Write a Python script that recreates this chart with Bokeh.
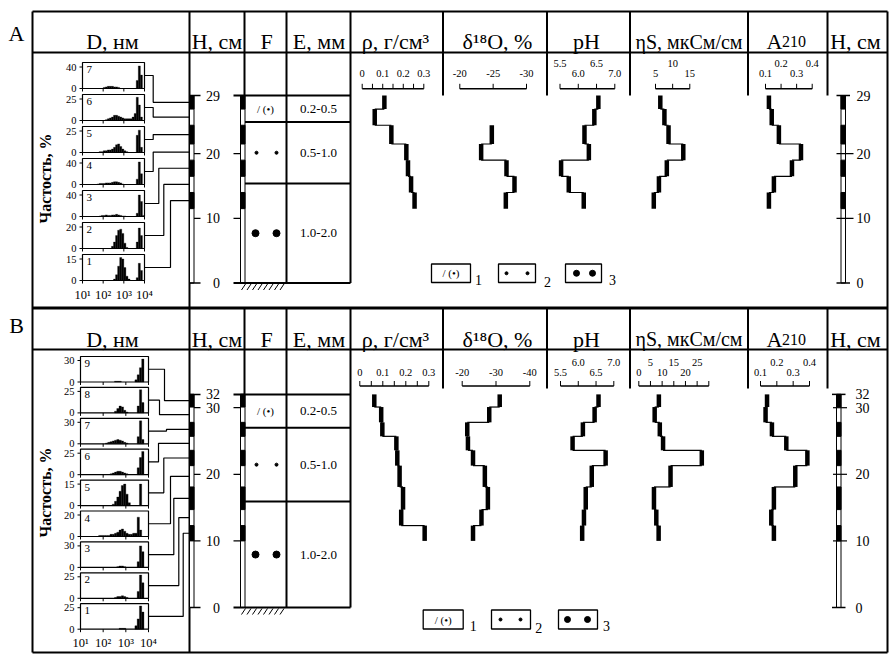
import math
from bokeh.plotting import figure
from bokeh.models import Range1d
from bokeh.embed import file_html
from bokeh.resources import INLINE
from bokeh.core.properties import value

# ======================= DATA =======================
# ---- Panel A (core A) : sample depth intervals, cm (top -> bottom)
A_edges = [29.0, 26.9, 24.4, 21.5, 19.0, 16.5, 14.0, 11.5]
A_rho = [0.108, 0.061, 0.142, 0.215, 0.223, 0.238, 0.255]
A_d18o_edges = [24.4, 21.5, 19.0, 16.5, 14.0, 11.5]
A_d18o = [-24.8, -23.2, -27.0, -28.2, -26.9]
A_ph = [6.55, 6.44, 6.17, 6.29, 5.53, 5.74, 6.15]
A_eta = [6.4, 7.6, 8.8, 13.1, 8.3, 6.0, 4.5]
A_a210 = [0.122, 0.140, 0.186, 0.328, 0.270, 0.154, 0.122]
A_layers = [29.0, 24.9, 15.4, 0.0]
A_depth_ticks = [29, 20, 10, 0]

# ---- Panel B
B_edges = [32.0, 30.1, 27.8, 25.7, 23.6, 21.3, 18.1, 14.7, 12.3, 10.0]
B_rho = [0.063, 0.093, 0.098, 0.159, 0.163, 0.173, 0.188, 0.180, 0.282]
B_d18o = [-31.1, -28.0, -21.5, -21.7, -23.2, -26.7, -27.6, -25.7, -23.2]
B_ph = [6.57, 6.46, 6.13, 5.84, 6.77, 6.38, 6.21, 6.16, 6.11]
B_eta = [8.6, 6.8, 9.0, 10.4, 27.0, 13.6, 6.5, 7.5, 8.5]
B_a210 = [0.140, 0.131, 0.170, 0.258, 0.387, 0.313, 0.182, 0.166, 0.182]
B_layers = [32.0, 27.0, 15.9, 0.0]
B_depth_ticks = [32, 30, 20, 10, 0]

E_labels = ["0.2-0.5", "0.5-1.0", "1.0-2.0"]

# ---- grain-size histograms, bins of log10(D, nm)
hist_edges = [1.0, 1.1, 1.2, 1.3, 1.4, 1.5, 1.6, 1.7, 1.8, 1.9, 2.0, 2.1, 2.2, 2.3, 2.4, 2.5,
              2.6, 2.7, 2.8, 2.9, 3.0, 3.1, 3.2, 3.3, 3.4, 3.5, 3.6, 3.7, 3.8, 3.9, 4.0]
hist_tick_vals = [1, 2, 3, 4]
hist_tick_labels = ["10¹", "10²", "10³", "10⁴"]

A_hist_ids = [7, 6, 5, 4, 3, 2, 1]
A_hist_max = [40, 25, 25, 40, 40, 20, 15]
A_hist = [
    [0, 0, 0, 0, 0, 0, 0, 0, 0, 0, 2, 3, 4, 4, 4, 3, 3, 2, 0, 0, 0, 0, 0, 0, 0, 0, 15, 42, 25, 0],
    [0, 0, 0, 0, 0, 0, 0, 0, 0, 0, 0, 1, 2, 3, 4, 6, 6, 5, 4, 3, 2, 2, 2, 2, 4, 8, 27, 18, 4, 0],
    [0, 0, 0, 0, 0, 0, 0, 0, 1, 1, 2, 2, 3, 3, 4, 6, 9, 10, 7, 4, 2, 1, 0, 0, 0, 0, 20, 26, 6, 0],
    [0, 0, 0, 0, 0, 0, 0, 1, 2, 2, 2, 3, 3, 3, 4, 5, 5, 4, 3, 1, 0, 0, 0, 0, 0, 0, 10, 42, 20, 0],
    [0, 0, 0, 0, 0, 0, 0, 0, 1, 2, 2, 3, 2, 2, 3, 3, 4, 3, 2, 1, 1, 0, 0, 0, 0, 0, 6, 40, 28, 2],
    [0, 0, 0, 0, 0, 0, 0, 0, 0, 0, 0, 0, 0, 0, 2, 6, 12, 17, 18, 14, 5, 1, 0, 0, 0, 0, 6, 19, 12, 0],
    [0, 0, 0, 0, 0, 0, 0, 0, 0, 0, 0, 0, 0, 0, 0, 1, 4, 10, 16, 15, 9, 3, 1, 0, 0, 0, 2, 12, 7, 0],
]
B_hist_ids = [9, 8, 7, 6, 5, 4, 3, 2, 1]
B_hist_max = [30, 25, 30, 25, 15, 20, 30, 25, 25]
B_hist = [
    [0, 0, 0, 0, 0, 0, 0, 0, 0, 0, 0, 0, 0, 0, 0, 1, 1, 1, 0, 0, 0, 0, 0, 0, 3, 10, 20, 32, 0, 0],
    [0, 0, 0, 0, 0, 0, 0, 0, 0, 0, 0, 0, 0, 0, 0, 2, 5, 8, 7, 3, 1, 0, 0, 0, 0, 8, 27, 12, 0, 0],
    [0, 0, 0, 0, 0, 0, 0, 0, 0, 0, 0, 1, 2, 3, 4, 5, 6, 5, 4, 2, 1, 0, 0, 0, 0, 10, 32, 6, 0, 0],
    [0, 0, 0, 0, 0, 0, 0, 0, 0, 0, 0, 0, 0, 1, 2, 3, 4, 4, 3, 2, 1, 0, 0, 0, 0, 8, 20, 27, 0, 0],
    [0, 0, 0, 0, 0, 0, 0, 0, 0, 0, 0, 0, 0, 0, 1, 3, 6, 10, 14, 15, 8, 2, 0, 0, 0, 0, 15, 0, 0, 0],
    [0, 0, 0, 0, 0, 0, 0, 0, 1, 1, 1, 1, 1, 2, 2, 3, 4, 6, 7, 5, 3, 2, 2, 3, 3, 18, 6, 0, 0, 0],
    [0, 0, 0, 0, 0, 0, 0, 0, 0, 0, 0, 0, 0, 0, 0, 0, 1, 2, 2, 1, 0, 0, 0, 0, 0, 8, 30, 22, 0, 0],
    [0, 0, 0, 0, 0, 0, 0, 0, 0, 0, 0, 0, 0, 0, 0, 1, 2, 2, 3, 2, 1, 0, 0, 0, 0, 8, 27, 18, 0, 0],
    [0, 0, 0, 0, 0, 0, 0, 0, 0, 0, 0, 0, 0, 0, 0, 0, 0, 1, 1, 1, 0, 0, 0, 0, 4, 12, 27, 20, 0, 0],
]

# ---- scale bars (ticks, labelled values, labels, label row: 1 = upper)
A_rho_ticks = [0, 0.05, 0.1, 0.15, 0.2, 0.25, 0.3]
A_rho_lab = ([0, 0.1, 0.2, 0.3], ["0", "0.1", "0.2", "0.3"], [0, 0, 0, 0])
A_d18o_ticks = [-20, -25, -30]
A_d18o_lab = ([-20, -25, -30], ["-20", "-25", "-30"], [0, 0, 0])
A_ph_ticks = [5.5, 6.0, 6.5, 7.0]
A_ph_lab = ([5.5, 6.0, 6.5, 7.0], ["5.5", "6.0", "6.5", "7.0"], [1, 0, 1, 0])
A_eta_ticks = [5, 10, 15]
A_eta_lab = ([5, 10, 15], ["5", "10", "15"], [0, 1, 0])
A_a210_ticks = [0.1, 0.2, 0.3, 0.4]
A_a210_lab = ([0.1, 0.2, 0.3, 0.4], ["0.1", "0.2", "0.3", "0.4"], [0, 1, 0, 1])

B_rho_ticks = [0, 0.05, 0.1, 0.15, 0.2, 0.25, 0.3]
B_rho_lab = ([0, 0.1, 0.2, 0.3], ["0", "0.1", "0.2", "0.3"], [0, 0, 0, 0])
B_d18o_ticks = [-20, -30, -40]
B_d18o_lab = ([-20, -30, -40], ["-20", "-30", "-40"], [0, 0, 0])
B_ph_ticks = [5.5, 6.0, 6.5, 7.0]
B_ph_lab = ([5.5, 6.0, 6.5, 7.0], ["5.5", "6.0", "6.5", "7.0"], [0, 1, 0, 1])
B_eta_ticks = [0, 5, 10, 15, 20, 25, 30]
B_eta_lab = ([0, 5, 10, 15, 20, 25], ["0", "5", "10", "15", "20", "25"], [0, 1, 0, 1, 0, 1])
B_a210_ticks = [0.1, 0.2, 0.3, 0.4]
B_a210_lab = ([0.1, 0.2, 0.3, 0.4], ["0.1", "0.2", "0.3", "0.4"], [0, 1, 0, 1])

headers = ["D, нм", "H, см", "F", "E, мм", "ρ, г/см³", "δ¹⁸O, %", "pH", "", "", "H, см"]
header_eta = "ηS, мкСм/см"

# ======================= FIGURE =======================
SERIF = value("Liberation Serif")
X0, X1, Y0, Y1 = 0, 890, 0, 660

p = figure(width=X1 - X0, height=Y1 - Y0, x_range=Range1d(X0, X1), y_range=Range1d(Y1, Y0),
           output_backend="svg", toolbar_location=None, x_axis_type=None, y_axis_type=None,
           min_border=0)
p.outline_line_color = None
p.background_fill_color = "white"
p.border_fill_color = "white"

xr, yr = {}, {}


def lin(v0, p0, v1, p1, axis):
    b = (p1 - p0) / (v1 - v0)
    a = p0 - b * v0
    if axis == "x":
        return Range1d(start=(X0 - a) / b, end=(X1 - a) / b)
    return Range1d(start=(Y1 - a) / b, end=(Y0 - a) / b)


DEP = {"A": (0, 282.5, 29, 95.0), "B": (0, 607.0, 30, 407.2)}


def dpx(panel, d):
    v0, p0, v1, p1 = DEP[panel]
    return p0 + (p1 - p0) / (v1 - v0) * (d - v0)


yr["dA"] = lin(*DEP["A"], "y")
yr["dB"] = lin(*DEP["B"], "y")

xr["rhoA"] = lin(0, 361.7, 0.3, 423.3, "x")
xr["d18oA"] = lin(-20, 459.3, -30, 526.0, "x")
xr["phA"] = lin(5.5, 559.5, 7.0, 614.3, "x")
xr["etaA"] = lin(5, 655.0, 15, 689.3, "x")
xr["a210A"] = lin(0.1, 765.0, 0.4, 811.7, "x")
xr["rhoB"] = lin(0, 359.3, 0.3, 428.3, "x")
xr["d18oB"] = lin(-20, 461.7, -40, 529.3, "x")
xr["phB"] = lin(5.5, 560.0, 7.0, 613.3, "x")
xr["etaB"] = lin(0, 638.3, 30, 708.3, "x")
xr["a210B"] = lin(0.1, 760.0, 0.4, 809.0, "x")
xr["histA"] = lin(1, 82, 4, 144, "x")
xr["histB"] = lin(1, 80, 4, 148, "x")

HBOX_A = [(62 + 32 * k, 88 + 32 * k) for k in range(7)]
HBOX_B = [(356 + 30.9 * k, 381.5 + 30.9 * k) for k in range(9)]
for k, (t, b) in enumerate(HBOX_A):
    yr[f"hA{k}"] = lin(0, b, A_hist_max[k], t + 4.5, "y")
for k, (t, b) in enumerate(HBOX_B):
    yr[f"hB{k}"] = lin(0, b, B_hist_max[k], t + 4.0, "y")

p.extra_x_ranges = xr
p.extra_y_ranges = yr


def txt(x, y, s, size, align="center", baseline="middle", style="normal", **kw):
    p.text(x=x, y=y, text=s, text_font=SERIF, text_font_size=size, text_align=align,
           text_baseline=baseline, text_font_style=style, text_color="black", **kw)


def seg(x0, y0, x1, y1, w=1.0, **kw):
    p.segment(x0=x0, y0=y0, x1=x1, y1=y1, line_color="black", line_width=w,
              line_cap="butt", **kw)


# ---------------- frame ----------------
seg([32, 32, 32, 887, 32, 32], [11, 652, 11, 11, 52, 349], [887, 887, 32, 887, 887, 887],
    [11, 652, 652, 652, 52, 349], 2)
seg([32], [307.5], [887], [307.5], 3)
COLS = [189, 244, 286, 350, 442.5, 546.5, 629.5, 747.5, 827]
A_end = [307.5, 95, 282.5, 282.5, 95, 95, 95, 95, 95]
B_end = [652, 394, 607, 607, 388, 388, 388, 388, 388]
seg(COLS, [11] * 9, COLS, A_end, 2)
seg(COLS, [307.5] * 9, COLS, B_end, 2)

# headers
HX = [112, 216.5, 266, 318.5, 395, 497, 586, 0, 0, 855]
for base in (41, 338.5):
    hx = [x for x, h in zip(HX, headers) if h]
    hs = [h for h in headers if h]
    txt(hx, [base] * len(hx), hs, "22px", baseline="alphabetic")
    txt([688.5], [base], [header_eta], "20px", baseline="alphabetic")
    txt([774], [base], ["A"], "22px", baseline="alphabetic")
    txt([781.5], [base], ["210"], "16px", align="left", baseline="alphabetic")
txt([16], [33], ["A"], "22px")
txt([16], [325], ["B"], "22px")


# ---------------- depth bars ----------------
def depth_bar(panel, x0, x1, edges):
    top = edges[0]
    p.quad(left=[x0], right=[x1], bottom=[0], top=[top], fill_color="white",
           line_color="black", line_width=1, y_range_name="d" + panel)
    p.quad(left=[x0] * len(edges[0:-1:2]), right=[x1] * len(edges[0:-1:2]),
           top=edges[0:-1:2], bottom=edges[1::2], fill_color="black", line_color="black",
           line_width=1, y_range_name="d" + panel)


for panel, edges, ticks, layers, rx0, rx1, rcap, rtick, rlab in (
        ("A", A_edges, A_depth_ticks, A_layers, 840.5, 845, (836, 849.5), (836, 853), 856),
        ("B", B_edges, B_depth_ticks, B_layers, 836, 840.5, (831.5, 845), (832.5, 846.5), 855)):
    yn = "d" + panel
    top = edges[0]
    inner = [t for t in ticks if t not in (top, 0)]
    # left H column
    depth_bar(panel, 189, 193.5, edges)
    seg([189, 189], [top, 0], [200, 200], [top, 0], 1.5, y_range_name=yn)
    seg([193.5] * len(inner), inner, [200] * len(inner), inner, 1.2, y_range_name=yn)
    txt([219.5] * len(ticks), ticks, [str(t) for t in ticks], "14px", align="right", y_range_name=yn)
    # F column
    depth_bar(panel, 240, 244.5, edges)
    seg([233, 233], [top, 0], [350, 350], [top, 0], 2, y_range_name=yn)
    seg([233] * len(inner), inner, [240] * len(inner), inner, 1.2, y_range_name=yn)
    mids = layers[1:-1]
    seg([244.5] * len(mids), mids, [350] * len(mids), mids, 2, y_range_name=yn)
    cen = [(layers[i] + layers[i + 1]) / 2 for i in range(3)]
    txt([318] * 3, cen, E_labels, "13px", y_range_name=yn)
    txt([265], [cen[0]], ["/ (•)"], "11px", y_range_name=yn)
    p.scatter(x=[256, 276], y=[cen[1]] * 2, size=3, color="black", y_range_name=yn)
    p.scatter(x=[255, 276], y=[cen[2]] * 2, size=7, color="black", y_range_name=yn)
    # hatch under F
    hy = dpx(panel, 0)
    hx0 = [241 + 5.5 * i for i in range(8)]
    seg(hx0, [hy + 7] * 8, [h + 4 for h in hx0], [hy + 1] * 8, 1)
    # right H column
    depth_bar(panel, rx0, rx1, edges)
    seg([rcap[0]] * 2, [top, 0], [rcap[1]] * 2, [top, 0], 1.5, y_range_name=yn)
    seg([rtick[0]] * len(inner), inner, [rtick[1]] * len(inner), inner, 1.2, y_range_name=yn)
    txt([rlab] * len(ticks), ticks, [str(t) for t in ticks], "14px", align="left", y_range_name=yn)


# ---------------- profiles ----------------
def profile(edges, vals, xn, yn):
    tops, bots = edges[:-1], edges[1:]
    seg(vals[:-1], bots[:-1], vals[1:], bots[:-1], 1.2, x_range_name=xn, y_range_name=yn)
    seg(vals, tops, vals, bots, 4.5, x_range_name=xn, y_range_name=yn)


profile(A_edges, A_rho, "rhoA", "dA")
profile(A_d18o_edges, A_d18o, "d18oA", "dA")
profile(A_edges, A_ph, "phA", "dA")
profile(A_edges, A_eta, "etaA", "dA")
profile(A_edges, A_a210, "a210A", "dA")
profile(B_edges, B_rho, "rhoB", "dB")
profile(B_edges, B_d18o, "d18oB", "dB")
profile(B_edges, B_ph, "phB", "dB")
profile(B_edges, B_eta, "etaB", "dB")
profile(B_edges, B_a210, "a210B", "dB")


def scale_bar(xn, ticks, lab, axis_y, rows_y):
    vals, labels, rows = lab
    seg([ticks[0]], [axis_y], [ticks[-1]], [axis_y], 1.5, x_range_name=xn)
    seg(ticks, [axis_y] * len(ticks), ticks, [axis_y - 5] * len(ticks), 1, x_range_name=xn)
    txt(vals, [rows_y[r] for r in rows], labels, "10.5px", x_range_name=xn)


for xn, ticks, lab in (("rhoA", A_rho_ticks, A_rho_lab), ("d18oA", A_d18o_ticks, A_d18o_lab),
                       ("phA", A_ph_ticks, A_ph_lab), ("etaA", A_eta_ticks, A_eta_lab),
                       ("a210A", A_a210_ticks, A_a210_lab)):
    scale_bar(xn, ticks, lab, 88.3, (72.5, 62.5))
for xn, ticks, lab in (("rhoB", B_rho_ticks, B_rho_lab), ("d18oB", B_d18o_ticks, B_d18o_lab),
                       ("phB", B_ph_ticks, B_ph_lab), ("etaB", B_eta_ticks, B_eta_lab),
                       ("a210B", B_a210_ticks, B_a210_lab)):
    scale_bar(xn, ticks, lab, 385.5, (371.5, 362))


# ---------------- histograms ----------------
def hist_panel(panel, boxes, ids, maxes, hists, bx0, bx1, elbows, edges):
    xn = "hist" + panel
    for k, (t, b) in enumerate(boxes):
        yn = f"h{panel}{k}"
        vals = hists[k]
        L = [hist_edges[i] for i, v in enumerate(vals) if v > 0]
        R = [hist_edges[i + 1] for i, v in enumerate(vals) if v > 0]
        V = [v for v in vals if v > 0]
        p.quad(left=L, right=R, bottom=[0] * len(V), top=V, fill_color="black",
               line_color="black", line_width=0.3, x_range_name=xn, y_range_name=yn)
        p.quad(left=[bx0], right=[bx1], top=[t], bottom=[b], fill_color=None,
               line_color="black", line_width=1.2)
        # y-axis ticks + labels
        seg([bx0 - 3, bx0 - 3], [0, maxes[k]], [bx0, bx0], [0, maxes[k]], 1, y_range_name=yn)
        txt([bx0 - 6, bx0 - 6], [0, maxes[k]], ["0", str(maxes[k])], "10.5px", align="right",
            y_range_name=yn)
        # x ticks
        seg(hist_tick_vals, [b] * 4, hist_tick_vals, [b + 3] * 4, 1, x_range_name=xn)
        txt([bx0 + 4], [t + 7], [str(ids[k])], "11px", align="left")
        # connector to depth column
        mid = (t + b) / 2
        dy = dpx(panel, (edges[k] + edges[k + 1]) / 2)
        p.line(x=[bx1, elbows[k], elbows[k], 189], y=[mid, mid, dy, dy], line_color="black",
               line_width=1.2)
    b = boxes[-1][1]
    txt(hist_tick_vals, [b + 14] * 4, hist_tick_labels, "12.5px", x_range_name=xn)


hist_panel("A", HBOX_A, A_hist_ids, A_hist_max, A_hist, 82, 144,
           [152.7, 152.7, 152.7, 152.7, 158.3, 163.3, 170], A_edges)
hist_panel("B", HBOX_B, B_hist_ids, B_hist_max, B_hist, 80, 148,
           [164, 159, 166, 158, 163.3, 170, 173.3, 178.3, 182.7], B_edges)

txt([45], [178], ["Частость, %"], "16px", style="bold", angle=math.pi / 2)
txt([45], [492], ["Частость, %"], "16px", style="bold", angle=math.pi / 2)

# ---------------- legends ----------------
for (boxes, yt, yb, dots2, dots3, digit_x) in (
        ([(431, 470), (498, 535), (565, 601)], 263.5, 282, (506, 527), (576, 592), (478, 547, 612)),
        ([(422.7, 462.7), (491, 530), (558, 597)], 609.5, 628.5, (500, 520), (567, 587), (472.7, 538.3, 606))):
    p.quad(left=[b[0] for b in boxes], right=[b[1] for b in boxes], top=[yt] * 3, bottom=[yb] * 3,
           fill_color="white", line_color="black", line_width=1.3)
    ym = (yt + yb) / 2
    txt([(boxes[0][0] + boxes[0][1]) / 2], [ym], ["/ (•)"], "11px")
    p.scatter(x=list(dots2), y=[ym] * 2, size=3, color="black")
    p.scatter(x=list(dots3), y=[ym] * 2, size=6, color="black")
    txt(list(digit_x), [yb - 3, yb - 1, yb - 3], ["1", "2", "3"], "14px")

open("out.html", "w").write(file_html(p, INLINE))
